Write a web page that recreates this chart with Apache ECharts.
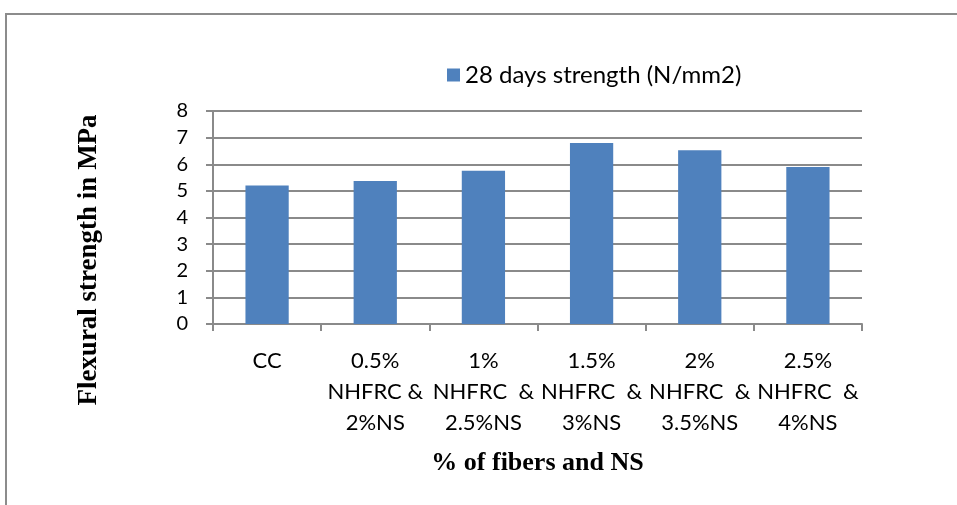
<!DOCTYPE html>
<html>
<head>
<meta charset="utf-8">
<script src="https://cdn.jsdelivr.net/npm/echarts@6/dist/echarts.min.js"></script>
<style>
  html, body { margin: 0; padding: 0; background: #fff; }
  #chart { width: 957px; height: 505px; }
</style>
</head>
<body>
<div id="chart"></div>
<script>
// Mix designs (category labels, wrapped over three lines)
const categories = [
  'CC',
  '0.5%\nNHFRC &\n2%NS',
  '1%\nNHFRC  &\n2.5%NS',
  '1.5%\nNHFRC  &\n3%NS',
  '2%\nNHFRC  &\n3.5%NS',
  '2.5%\nNHFRC  &\n4%NS'
];
// Flexural strength at 28 days (N/mm2)
const strength28 = [5.2, 5.37, 5.76, 6.8, 6.53, 5.9];
const seriesName = '28 days strength (N/mm2)';
const yTitle = 'Flexural strength in MPa';
const xTitle = '% of fibers and NS';
const yTicks = { min: 0, max: 8, interval: 1 };

const chart = echarts.init(document.getElementById('chart'));
const axisGrey = '#8a8a8a';
const titleFont = { fontFamily: 'Liberation Serif', fontWeight: 'bold', fontSize: 26, color: '#000' };
chart.setOption({
  animation: false,
  graphic: [
    {
      type: 'rect',
      shape: { x: 6, y: 14, width: 1000, height: 600 },
      style: { fill: 'none', stroke: '#8c8c8c', lineWidth: 2 }
    },
    {
      type: 'text',
      x: 89, y: 260,
      rotation: Math.PI / 2,
      style: {
        text: yTitle,
        font: 'bold 27px "Liberation Serif"',
        fill: '#000',
        align: 'center',
        verticalAlign: 'middle'
      }
    }
  ],
  legend: {
    data: [seriesName],
    left: 442, top: 58,
    itemWidth: 13, itemHeight: 13, itemGap: 5,
    textStyle: { fontFamily: 'Lato', fontSize: 24, color: '#000' },
    icon: 'rect'
  },
  grid: { left: 213, right: 95, top: 111, bottom: 181 },
  xAxis: {
    type: 'category',
    data: categories,
    name: xTitle,
    nameLocation: 'middle',
    nameGap: 126,
    nameTextStyle: titleFont,
    axisLine: { lineStyle: { color: axisGrey, width: 2 } },
    axisTick: { show: true, alignWithLabel: false, length: 7, lineStyle: { color: axisGrey, width: 2 } },
    axisLabel: { fontFamily: 'Lato', fontSize: 22, color: '#000', lineHeight: 31, margin: 21, interval: 0 }
  },
  yAxis: {
    type: 'value',
    min: yTicks.min, max: yTicks.max, interval: yTicks.interval,
    axisLine: { show: true, lineStyle: { color: axisGrey, width: 2 } },
    axisTick: { show: true, length: 7, lineStyle: { color: axisGrey, width: 2 } },
    splitLine: { lineStyle: { color: axisGrey, width: 2 } },
    axisLabel: { fontFamily: 'Lato', fontSize: 20, color: '#000', margin: 25 }
  },
  series: [{
    name: seriesName,
    type: 'bar',
    data: strength28,
    barWidth: '40%',
    itemStyle: { color: '#4f81bd' }
  }]
});
</script>
</body>
</html>
